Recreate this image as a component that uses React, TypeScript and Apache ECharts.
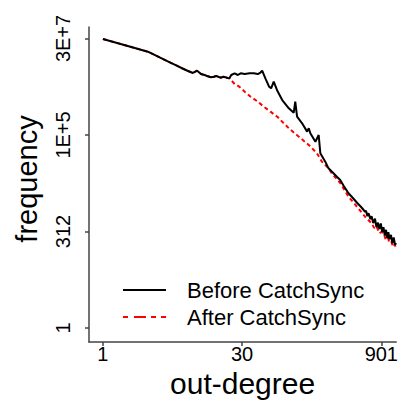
import { useEffect, useRef } from "react";
import * as echarts from "echarts";

const seriesNames = ["Before CatchSync", "After CatchSync"];

const beforeDegree = [
  1, 2, 3, 4, 5, 6, 7, 8, 9, 10, 11, 12, 13, 14, 15, 16, 17, 18, 19, 20, 21, 22,
  23, 25, 27, 29, 32, 36, 40, 44, 47, 49, 53, 58, 61, 65, 71, 80, 94, 106, 110, 115,
  130, 147, 153, 159, 180, 195, 203, 229, 248, 275, 304, 330, 360, 404, 450, 500, 550,
  606, 620, 640, 660, 690, 710, 740, 772, 800, 830, 860, 890, 920, 950, 980, 1010,
  1040, 1070, 1100, 1140, 1180, 1220, 1260, 1290,
];
const beforeFreq = [
  2.95e7, 1.83e7, 1.385e7, 9.86e6, 7.59e6, 6.13e6, 5.1e6, 4.39e6, 3.9e6, 4.47e6, 3.67e6,
  3.46e6, 3.2e6, 3.02e6, 3.11e6, 3.26e6, 3.07e6, 2.95e6, 3.13e6, 3.02e6, 2.89e6, 2.84e6,
  3.46e6, 3.83e6, 3.46e6, 3.83e6, 3.67e6, 3.83e6, 3.83e6, 3.67e6, 4.01e6, 4.47e6, 2.84e6,
  1.73e6, 1.57e6, 2.32e6, 1.35e6, 7.81e5, 4.77e5, 3.67e5, 7.07e5, 2.89e5, 1.95e5, 1.19e5,
  1.45e5, 1.08e5, 6.53e4, 9.74e4, 3.28e4, 1.99e4, 1.34e4, 1.04e4, 8140, 6690, 4680, 3030,
  2291, 1700, 1341, 1010, 1076, 785, 926, 652, 776, 517, 668, 403, 527, 360, 502, 305,
  403, 246, 345, 212, 301, 196, 256, 156, 218, 141, 158,
];

const afterDegree = [
  1, 2, 3, 4, 5, 6, 7, 8, 9, 10, 11, 12, 13, 14, 15, 16, 17, 18, 19, 20, 21, 22,
  25, 28, 32, 37, 44, 51, 60, 71, 80, 94, 120, 153, 187, 211, 248, 268, 330, 404, 500,
  606, 700, 760, 800, 860, 906, 960, 1000, 1060, 1100, 1156, 1200, 1250, 1290,
];
const afterFreq = [
  2.95e7, 1.83e7, 1.385e7, 9.86e6, 7.59e6, 6.13e6, 5.1e6, 4.39e6, 3.9e6, 4.47e6, 3.67e6,
  3.46e6, 3.2e6, 3.02e6, 3.11e6, 3.26e6, 3.07e6, 2.95e6, 3.13e6, 3.02e6, 2.89e6, 2.84e6,
  2.03e6, 1.73e6, 1.28e6, 9.51e5, 7.07e5, 5.25e5, 3.9e5, 2.89e5, 2.15e5, 1.45e5, 8.8e4,
  5.37e4, 3.28e4, 1.99e4, 1.34e4, 9970, 5590, 2470, 1341, 753, 527, 384, 428, 283, 303,
  274, 196, 216, 155, 164, 125, 144, 118,
];

const xTickValues = [1, 30, 901];
const xTickLabels = ["1", "30", "901"];
const yTickValues = [1, 312, 97344, 30371328];
const yTickLabels = ["1", "312", "1E+5", "3E+7"];

const FONT = "'Liberation Sans', Arial, Helvetica, sans-serif";

function labelFor(values: number[], labels: string[]) {
  return (v: number) => {
    let best = 0;
    let bd = Infinity;
    values.forEach((t, i) => {
      const d = Math.abs(Math.log(v) - Math.log(t));
      if (d < bd) {
        bd = d;
        best = i;
      }
    });
    return labels[best];
  };
}

export default function App() {
  const ref = useRef<HTMLDivElement>(null);
  useEffect(() => {
    if (!ref.current) return;
    const chart = echarts.init(ref.current, null, { renderer: "svg" });
    const axisLineStyle = { color: "#444", width: 1.5 };
    chart.setOption({
      animation: false,
      backgroundColor: "#fff",
      textStyle: { fontFamily: FONT },
      grid: { left: 89, top: 27, width: 309, height: 315, containLabel: false },
      legend: {
        data: [
          { name: seriesNames[0], lineStyle: { color: "#000", width: 2, type: "solid" } },
          {
            name: seriesNames[1],
            lineStyle: { color: "#ff0000", width: 2, type: [5, 6, 12, 5, 5, 5] },
          },
        ],
        orient: "vertical",
        left: 122,
        top: 279,
        padding: 0,
        itemWidth: 43,
        itemHeight: 14,
        itemGap: 5,
        itemStyle: { opacity: 0, borderWidth: 0 },
        textStyle: {
          fontSize: 22,
          fontFamily: FONT,
          color: "#000",
          lineHeight: 22,
          padding: [0, 0, 0, 16],
        },
      },
      xAxis: {
        type: "log",
        min: 0.7117,
        max: 1296,
        name: "out-degree",
        nameLocation: "middle",
        nameGap: 24,
        nameTextStyle: { fontSize: 30, color: "#000", fontFamily: FONT },
        axisLine: { show: true, lineStyle: axisLineStyle },
        axisTick: { show: true, length: 4, customValues: xTickValues, lineStyle: axisLineStyle },
        axisLabel: {
          customValues: xTickValues,
          margin: 2,
          fontSize: 20,
          color: "#000",
          fontFamily: FONT,
          formatter: labelFor(xTickValues, xTickLabels),
        },
        splitLine: { show: false },
      },
      yAxis: {
        type: "log",
        min: 0.4347,
        max: 6.02e7,
        name: "frequency",
        nameLocation: "middle",
        nameGap: 48,
        nameTextStyle: { fontSize: 29, color: "#000", fontFamily: FONT, padding: [0, 0, 0, 11] },
        axisLine: { show: true, lineStyle: axisLineStyle },
        axisTick: { show: true, length: 4, customValues: yTickValues, lineStyle: axisLineStyle },
        axisLabel: {
          customValues: yTickValues,
          rotate: 90,
          margin: 16,
          fontSize: 20,
          color: "#000",
          fontFamily: FONT,
          formatter: labelFor(yTickValues, yTickLabels),
        },
        splitLine: { show: false },
      },
      series: [
        {
          name: seriesNames[1],
          type: "line",
          data: afterDegree.map((d, i) => [d, afterFreq[i]]),
          symbol: "none",
          z: 2,
          itemStyle: { color: "#ff0000" },
          lineStyle: { color: "#ff0000", width: 2, type: [4, 3] },
        },
        {
          name: seriesNames[0],
          type: "line",
          data: beforeDegree.map((d, i) => [d, beforeFreq[i]]),
          symbol: "none",
          z: 3,
          itemStyle: { color: "#000" },
          lineStyle: { color: "#000", width: 2 },
        },
      ],
    });
    return () => chart.dispose();
  }, []);
  return (
    <div
      ref={ref}
      style={{ position: "fixed", left: 0, top: 0, width: 401, height: 406 }}
    />
  );
}
